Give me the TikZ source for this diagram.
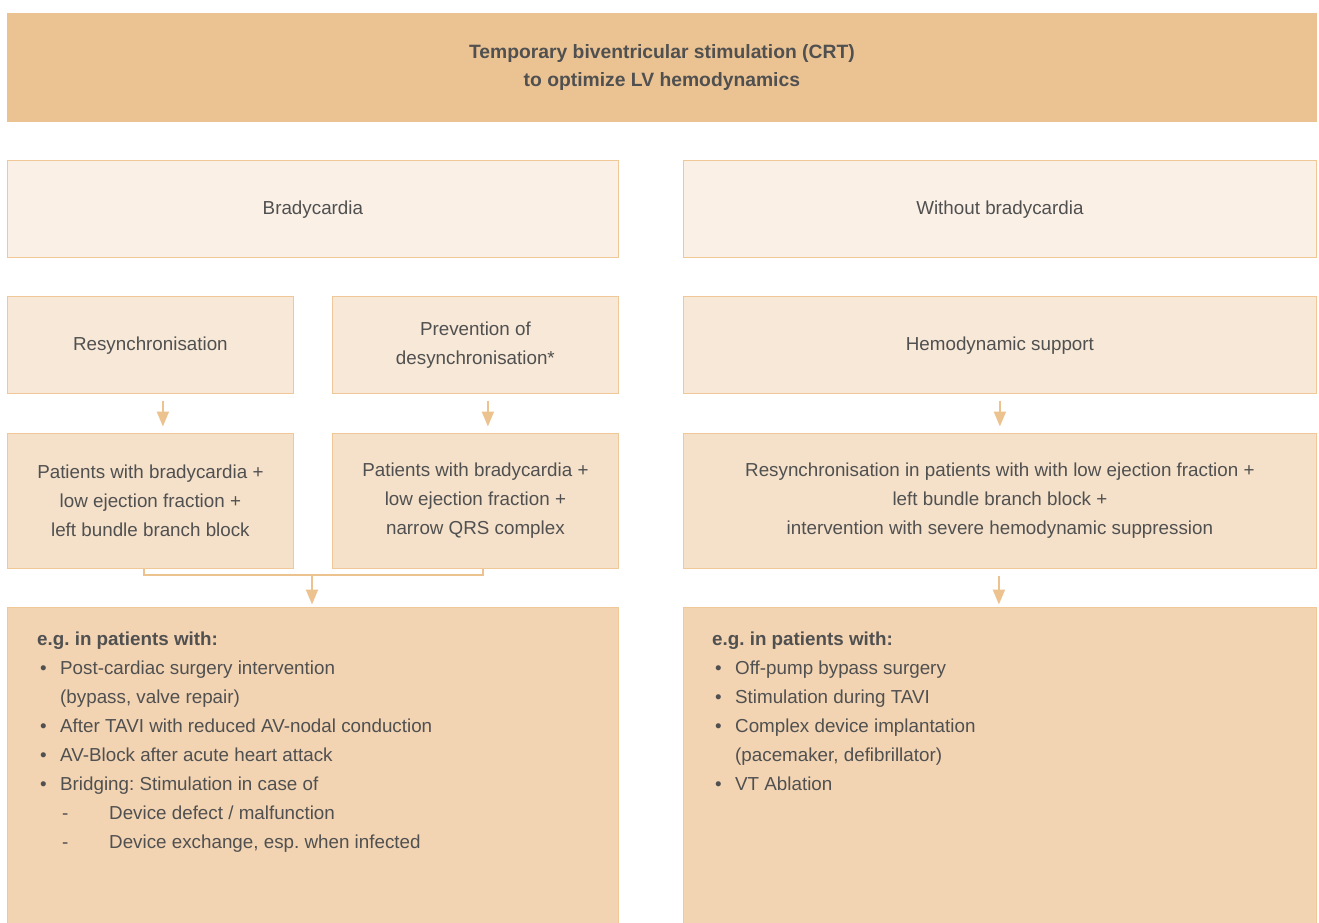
\documentclass[tikz,border=0pt]{standalone}
\usepackage{fontspec}
\setmainfont{Liberation Sans}
\usepackage{tikz}
\usetikzlibrary{arrows.meta}
\definecolor{banner}{HTML}{EBC393}
\definecolor{paleA}{HTML}{FAF0E6}
\definecolor{paleB}{HTML}{F7E8D7}
\definecolor{paleC}{HTML}{F5E1CA}
\definecolor{paleD}{HTML}{F2D4B3}
\definecolor{frame}{HTML}{F0C898}
\definecolor{ink}{HTML}{505050}
\definecolor{connector}{HTML}{ECC28F}
\tikzset{%
    >={Triangle[length=15pt,width=12pt]},
    box/.style={anchor=north west, draw=frame, line width=1.8pt, inner sep=0pt, align=center, text=ink},
}
\newcommand{\bul}[1]{\makebox[23pt][l]{\hspace{3pt}\textbullet}#1}
\newcommand{\sub}[1]{\makebox[72pt][l]{\hspace{25pt}-}#1}
\newcommand{\cont}[1]{\hspace*{23pt}#1}
\frenchspacing

\begin{document}
\begin{tikzpicture}[x=1pt, y=-1pt, every node/.style={font=\fontsize{18.8}{29}\selectfont}]
  \useasboundingbox (0,0) rectangle (1319,923);

  \node[box, draw=none, fill=banner, minimum width=1310pt, minimum height=109pt, font=\fontsize{19.3}{28}\selectfont\bfseries] (title) at (6,12)
    {Temporary biventricular stimulation (CRT)\\to optimize LV hemodynamics};

  \node[box, fill=paleA, minimum width=611pt, minimum height=97pt] (brady) at (6.5,159.5) {\strut Bradycardia};
  \node[box, fill=paleA, minimum width=633pt, minimum height=97pt] (nobrady) at (682.5,159.5) {\strut Without bradycardia};

  \node[box, fill=paleB, minimum width=286pt, minimum height=97pt] (resync) at (6.5,295.5) {\strut Resynchronisation};
  \node[box, fill=paleB, minimum width=286pt, minimum height=97pt] (prevent) at (331.5,295.5) {Prevention of\\desynchronisation*};
  \node[box, fill=paleB, minimum width=633pt, minimum height=97pt] (hemo) at (682.5,295.5) {\strut Hemodynamic support};

  \node[box, fill=paleC, minimum width=286pt, minimum height=135pt] (ptsL) at (6.5,432.5)
    {Patients with bradycardia +\\low ejection fraction +\\left bundle branch block};
  \node[box, fill=paleC, minimum width=286pt, minimum height=135pt] (ptsM) at (331.5,432.5)
    {Patients with bradycardia +\\low ejection fraction +\\narrow QRS complex};
  \node[box, fill=paleC, minimum width=633pt, minimum height=135pt] (ptsR) at (682.5,432.5)
    {Resynchronisation in patients with with low ejection fraction +\\left bundle branch block +\\intervention with severe hemodynamic suppression};

  \node[box, fill=paleD, minimum width=611pt, minimum height=330pt] (egL) at (6.5,606.5) {};
  \node[box, fill=paleD, minimum width=633pt, minimum height=330pt] (egR) at (682.5,606.5) {};

  % lists in the lower boxes
  \node[anchor=north west, inner sep=0pt, align=left, text=ink] (listL) at (37,632)
    {\textbf{e.g. in patients with:}\\
     \bul{Post-cardiac surgery intervention}\\
     \cont{(bypass, valve repair)}\\
     \bul{After TAVI with reduced AV-nodal conduction}\\
     \bul{AV-Block after acute heart attack}\\
     \bul{Bridging: Stimulation in case of}\\
     \sub{Device defect / malfunction}\\
     \sub{Device exchange, esp. when infected}};
  \node[anchor=north west, inner sep=0pt, align=left, text=ink] (listR) at (712,632)
    {\textbf{e.g. in patients with:}\\
     \bul{Off-pump bypass surgery}\\
     \bul{Stimulation during TAVI}\\
     \bul{Complex device implantation}\\
     \cont{(pacemaker, defibrillator)}\\
     \bul{VT Ablation}};

  \begin{scope}[color=connector, line width=2pt, shorten <=7pt, shorten >=6pt]
      \draw[->] ([xshift=12.5pt]resync.south) -- ([xshift=12.5pt]ptsL.north);
      \draw[->] ([xshift=12.5pt]prevent.south) -- ([xshift=12.5pt]ptsM.north);
      \draw[->] (hemo.south) -- (ptsR.north);
  \end{scope}

  \coordinate (join) at (312,575);
  \begin{scope}[color=connector, line width=2pt]
      \draw ([xshift=-6.5pt]ptsL.south) |- (join) -| ([xshift=7.5pt]ptsM.south);
      \draw[->, shorten >=2pt] (join) -- (join |- egL.north);
      \draw[->, shorten <=7pt, shorten >=2pt] ([xshift=-1pt]ptsR.south) -- ([xshift=-1pt]egR.north);
  \end{scope}
\end{tikzpicture}
\end{document}
